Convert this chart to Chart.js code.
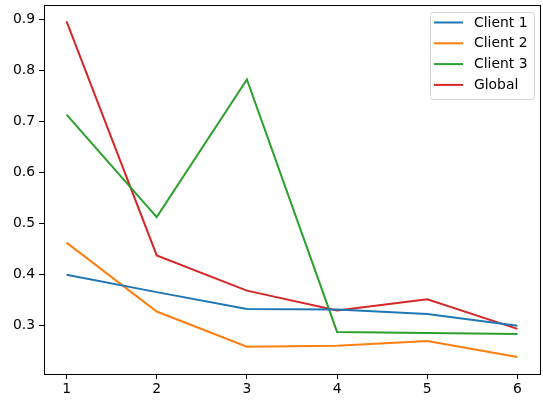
<!DOCTYPE html>
<html>
<head>
<meta charset="utf-8">
<script src="https://cdn.jsdelivr.net/npm/chart.js@4/dist/chart.umd.min.js"></script>
<style>
  html, body { margin: 0; padding: 0; background: #fff; }
  #wrap { width: 543px; height: 402px; }
</style>
</head>
<body>
<div id="wrap"><canvas id="myChart" width="543" height="402"></canvas></div>
<script>
// values
var rounds = [1, 2, 3, 4, 5, 6];
var client1 = [0.399, 0.365, 0.332, 0.331, 0.322, 0.299];
var client2 = [0.462, 0.327, 0.258, 0.260, 0.269, 0.238];
var client3 = [0.713, 0.512, 0.782, 0.287, 0.285, 0.283];
var globalVals = [0.896, 0.437, 0.368, 0.329, 0.351, 0.293];
var xTicks = [1, 2, 3, 4, 5, 6];
var yTicks = [0.3, 0.4, 0.5, 0.6, 0.7, 0.8, 0.9];

var names = ['Client 1', 'Client 2', 'Client 3', 'Global'];
var colors = ['#1f77b4', '#ff7f0e', '#2ca02c', '#d62728'];
var series = [client1, client2, client3, globalVals];

function pts(vals) {
    var out = [];
    for (var i = 0; i < rounds.length; i++) {
        out.push({ x: rounds[i], y: vals[i] });
    }
    return out;
}

var datasets = [];
for (var i = 0; i < series.length; i++) {
    datasets.push({
        label: names[i],
        data: pts(series[i]),
        borderColor: colors[i],
        backgroundColor: colors[i],
        borderWidth: 2,
        pointRadius: 0,
        tension: 0,
        fill: false
    });
}

var FONT = "'DejaVu Sans', sans-serif";
var FSIZE = 13.9;

// frame round the plot and matplotlib-like legend box
var framePlugin = {
    id: 'frame',
    afterDraw: function (chart) {
        var c = chart.ctx, a = chart.chartArea;
        c.save();
        c.strokeStyle = '#000';
        c.lineWidth = 1;
        c.strokeRect(Math.round(a.left) + 0.5, Math.round(a.top) + 0.5,
            Math.round(a.right - a.left), Math.round(a.bottom - a.top));

        // legend
        var bw = 104, bh = 87;
        var bx = a.right - 110, by = a.top + 7;
        c.fillStyle = 'rgba(255,255,255,0.8)';
        c.strokeStyle = '#d6d6d6';
        c.lineWidth = 1;
        c.beginPath();
        c.roundRect(bx + 0.5, by + 0.5, bw, bh, 3);
        c.fill();
        c.stroke();
        c.font = FSIZE + 'px ' + FONT;
        c.textBaseline = 'middle';
        c.textAlign = 'left';
        chart.data.datasets.forEach(function (ds, k) {
            var yy = by + 10.5 + k * 20.8;
            c.strokeStyle = ds.borderColor;
            c.lineWidth = 2;
            c.beginPath();
            c.moveTo(bx + 4, yy);
            c.lineTo(bx + 33, yy);
            c.stroke();
            c.fillStyle = '#000';
            c.fillText(ds.label, bx + 44, yy + 0.5);
        });
        c.restore();
    }
};

var ctx = document.getElementById('myChart');
var myChart = new Chart(ctx, {
    type: 'line',
    data: { datasets: datasets },
    options: {
        responsive: false,
        animation: false,
        layout: { padding: { top: 5, right: 3, left: 0, bottom: 0 } },
        plugins: { legend: { display: false }, tooltip: { enabled: false } },
        scales: {
            x: {
                type: 'linear',
                min: 0.75,
                max: 6.25,
                afterBuildTicks: function (s) { s.ticks = xTicks.map(function (v) { return { value: v }; }); },
                afterFit: function (s) { s.height = 28; s.paddingLeft = 0; s.paddingRight = 0; },
                grid: { display: true, drawOnChartArea: false, drawTicks: true, tickLength: 5, color: '#000' },
                border: { display: false },
                ticks: {
                    color: '#000', padding: 2, maxRotation: 0,
                    font: { family: FONT, size: FSIZE },
                    callback: function (v) { return String(v); }
                }
            },
            y: {
                type: 'linear',
                min: 0.2045,
                max: 0.928,
                afterBuildTicks: function (s) { s.ticks = yTicks.map(function (v) { return { value: v }; }); },
                afterFit: function (s) { s.width = 44; s.paddingTop = 0; s.paddingBottom = 0; },
                grid: { display: true, drawOnChartArea: false, drawTicks: true, tickLength: 5, color: '#000' },
                border: { display: false },
                ticks: {
                    color: '#000', padding: 4,
                    font: { family: FONT, size: FSIZE },
                    callback: function (v) { return v.toFixed(1); }
                }
            }
        }
    },
    plugins: [framePlugin]
});
</script>
</body>
</html>
